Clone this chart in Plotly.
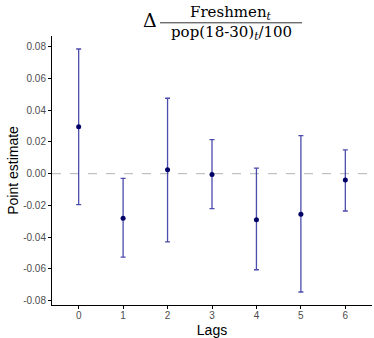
import plotly.graph_objects as go

# Lag estimates with 95% confidence bounds
lags = [0, 1, 2, 3, 4, 5, 6]
estimate = [0.0295, -0.0280, 0.0025, -0.0005, -0.0290, -0.0255, -0.0040]
upper = [0.0785, -0.0030, 0.0475, 0.0215, 0.0035, 0.0240, 0.0150]
lower = [-0.0195, -0.0525, -0.0430, -0.0220, -0.0605, -0.0745, -0.0235]
y_ticks = [-0.08, -0.06, -0.04, -0.02, 0.00, 0.02, 0.04, 0.06, 0.08]

err_plus = [u - e for u, e in zip(upper, estimate)]
err_minus = [e - l for e, l in zip(estimate, lower)]

W, H = 374, 338
ML, MR, MT, MB = 52, 2, 36, 31
pw, ph = W - ML - MR, H - MT - MB


def px_x(x):
    return (x - ML) / pw


def px_y(y):
    # y measured in pixels from the top of the figure
    return (H - MB - y) / ph


fig = go.Figure()
fig.add_trace(go.Scatter(
    x=lags, y=estimate, mode="markers",
    marker=dict(color="#000066", size=5),
    error_y=dict(type="data", symmetric=False, array=err_plus, arrayminus=err_minus,
                 color="rgba(45,45,160,0.85)", thickness=1.3, width=2.5),
    showlegend=False,
))

fig.add_hline(y=0, line=dict(color="#b3b3b3", width=1, dash="dash"), layer="below")

fig.update_layout(
    width=W, height=H,
    margin=dict(l=ML, r=MR, t=MT, b=MB),
    paper_bgcolor="white", plot_bgcolor="white",
    font=dict(family="Liberation Sans, Arial, sans-serif", color="black"),
    xaxis=dict(
        range=[-0.6, 6.6], tickvals=lags, ticktext=[str(v) for v in lags],
        showline=True, linecolor="black", linewidth=1, ticks="outside", ticklen=3,
        tickcolor="black", showgrid=False, zeroline=False, ticklabelstandoff=-2,
        tickfont=dict(size=10, color="#4d4d4d"),
        title=dict(text="Lags", font=dict(size=14), standoff=5),
    ),
    yaxis=dict(
        range=[-0.0827, 0.0867], tickvals=y_ticks, ticktext=[f"{v:.2f}" for v in y_ticks],
        showline=True, linecolor="black", linewidth=1, ticks="outside", ticklen=3,
        tickcolor="black", showgrid=False, zeroline=False,
        tickfont=dict(size=10, color="#4d4d4d"),
        title=dict(text="Point estimate", font=dict(size=14), standoff=1),
    ),
)

# Title: Δ (Freshmen_t / (pop(18-30)_t / 100)) assembled from text pieces
serif = "DejaVu Serif, Liberation Serif, serif"
title_parts = [
    (150, 20, "Δ", 19),
    (231, 12, "Freshmen<sub><i>t</i></sub>", 15),
    (231, 32, "pop(18-30)<sub><i>t</i></sub>/100", 15),
]
for x, y, txt, size in title_parts:
    fig.add_annotation(x=px_x(x), y=px_y(y), xref="paper", yref="paper", text=txt,
                       showarrow=False, xanchor="center", yanchor="middle",
                       font=dict(family=serif, size=size, color="black"))
fig.add_shape(type="line", xref="paper", yref="paper",
              x0=px_x(160), x1=px_x(302), y0=px_y(22.7), y1=px_y(22.7),
              line=dict(color="#333333", width=1))

fig.write_html("out.html")
